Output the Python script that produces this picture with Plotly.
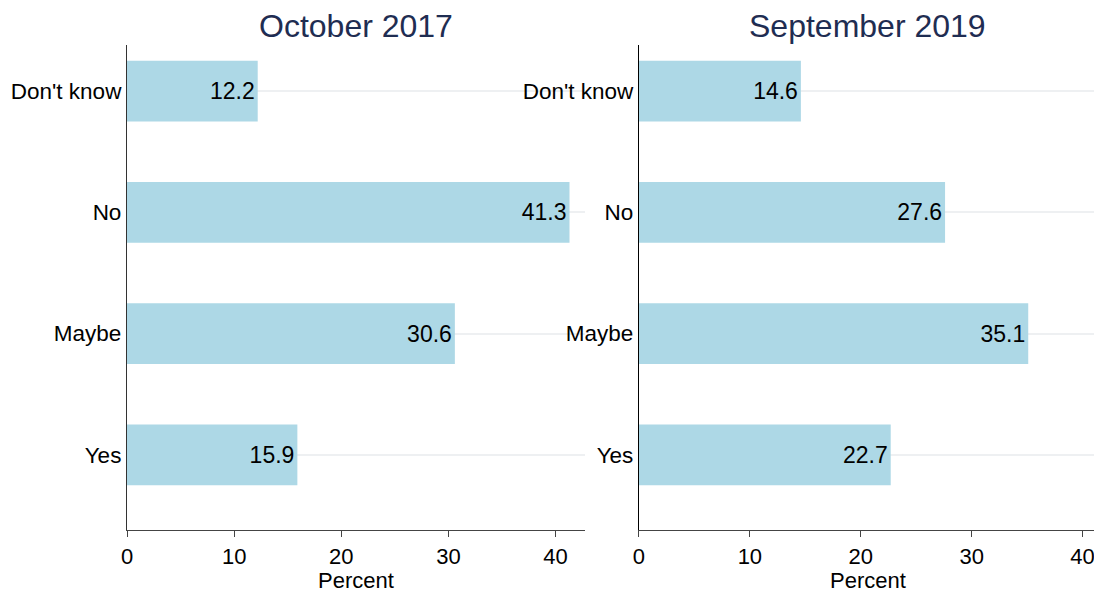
import plotly.graph_objs as go
from plotly.subplots import make_subplots

answers = ["Yes", "Maybe", "No", "Don't know"]
oct_2017 = [15.9, 30.6, 41.3, 12.2]
sep_2019 = [22.7, 35.1, 27.6, 14.6]
panel_titles = ["October 2017", "September 2019"]
x_ticks = [0, 10, 20, 30, 40]

FONT = "Liberation Sans, Arial, Helvetica, sans-serif"
BAR = "#ADD8E6"

fig = make_subplots(rows=1, cols=2, subplot_titles=panel_titles, horizontal_spacing=0.0556)

for col, vals in enumerate([oct_2017, sep_2019], start=1):
    fig.add_trace(go.Bar(
        x=vals, y=answers, orientation="h",
        marker=dict(color=BAR, line=dict(width=0)),
        width=0.5,
        text=[f"{v:.1f}" for v in vals],
        textposition="inside", insidetextanchor="end",
        textfont=dict(family=FONT, size=23, color="black"),
        cliponaxis=False, showlegend=False,
    ), row=1, col=col)

# left panel runs a bit past 41.3, right one stops near 41
x_ranges = [[0, 42.75], [0, 41.3]]
for col in (1, 2):
    fig.update_xaxes(range=x_ranges[col - 1], tickvals=x_ticks, showgrid=False,
                     showline=True, linecolor="#444", linewidth=1.2,
                     ticks="outside", ticklen=6, tickcolor="#444",
                     tickfont=dict(family=FONT, size=22, color="black"),
                     title=dict(text="Percent", font=dict(family=FONT, size=22, color="black"), standoff=2),
                     zeroline=False, automargin=False, row=1, col=col)
    fig.update_yaxes(range=[-0.62, 3.38], categoryorder="array", categoryarray=answers,
                     showgrid=True, gridcolor="#EEF0F2", gridwidth=1.5,
                     showline=True, linecolor="#333" if col == 1 else "black", linewidth=1.2,
                     ticks="", ticklabelstandoff=0,
                     tickfont=dict(family=FONT, size=22.5, color="black"),
                     automargin=False, row=1, col=col)

for ann in fig.layout.annotations:
    ann.font = dict(family=FONT, size=32, color="#1f2d52")
    ann.yshift = -1

# page body has an 8px margin, so the figure is a bit smaller than the window
fig.update_layout(
    width=1094, height=588,
    margin=dict(l=119, r=5, t=37, b=66),
    plot_bgcolor="white", paper_bgcolor="white",
    bargap=0.5,
)

fig.write_html("out.html")
